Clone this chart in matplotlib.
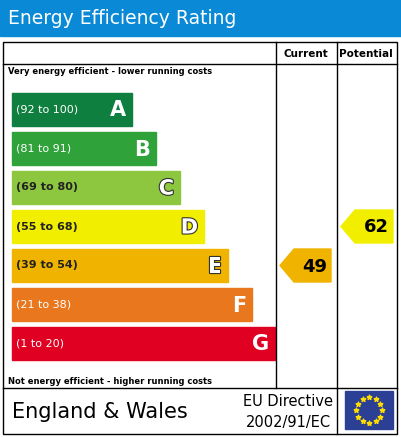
import matplotlib
matplotlib.use("Agg")
import matplotlib.pyplot as plt
from matplotlib.patches import Rectangle, Polygon
import matplotlib.patheffects as pe
import numpy as np

bands = ["A", "B", "C", "D", "E", "F", "G"]
ranges = ["(92 to 100)", "(81 to 91)", "(69 to 80)", "(55 to 68)", "(39 to 54)", "(21 to 38)", "(1 to 20)"]
colors = ["#0f7f3f", "#2fa23a", "#8dc63f", "#f2ee00", "#f0b400", "#e8771e", "#df0022"]
lower = [92, 81, 69, 55, 39, 21, 1]
current = 49
potential = 62

W, H = 401, 437
fig = plt.figure(figsize=(W/100, H/100), dpi=100)
ax = fig.add_axes([0, 0, 1, 1])
ax.set_xlim(0, W); ax.set_ylim(H, 0); ax.axis("off")

ax.add_patch(Rectangle((0, 0), W, 36, color="#0a8ad6"))
ax.text(8, 19, "Energy Efficiency Rating", color="white", fontsize=13.5, va="center", ha="left")

lw = 1.0
ax.add_patch(Rectangle((3, 42), 394, 392, fill=False, ec="black", lw=lw))
ax.plot([3, 397], [64, 64], color="black", lw=lw)
ax.plot([3, 397], [388, 388], color="black", lw=lw)
ax.plot([276, 276], [42, 388], color="black", lw=lw)
ax.plot([337, 337], [42, 388], color="black", lw=lw)
ax.plot([337, 337], [388, 434], color="black", lw=lw)
ax.text(306, 54, "Current", fontsize=7.5, weight="bold", ha="center", va="center")
ax.text(366, 54, "Potential", fontsize=7.5, weight="bold", ha="center", va="center")
ax.text(8, 72, "Very energy efficient - lower running costs", fontsize=6, weight="bold", va="center")
ax.text(8, 381, "Not energy efficient - higher running costs", fontsize=6, weight="bold", va="center")

tops = [93, 132, 171, 210, 249, 288, 327]
bh = 33
for i, (b, r, c) in enumerate(zip(bands, ranges, colors)):
    x1 = 132 + 24 * i if i < 6 else 275
    light = i in (2, 3, 4)
    ax.add_patch(Rectangle((12, tops[i]), x1 - 12, bh, color=c))
    ax.text(16, tops[i] + bh/2, r, fontsize=8, weight="bold" if light else "normal",
            color="#222222" if light else "white", va="center")
    effects = [pe.withStroke(linewidth=1.6, foreground="#333333")] if light else None
    ax.text(x1 - 6, tops[i] + bh/2 + 1, b, fontsize=15, weight="bold", color="white",
            va="center", ha="right", path_effects=effects)

def band_index(v):
    for i, lo in enumerate(lower):
        if v >= lo:
            return i
    return 6

def arrow(v, x0, x1):
    i = band_index(v)
    t = tops[i]; m = t + bh/2
    poly = Polygon([[x0, m], [x0 + 14, t], [x1, t], [x1, t + bh], [x0 + 14, t + bh]],
                   color=colors[i])
    ax.add_patch(poly)
    ax.text(x1 - 4, m + 1, str(v), fontsize=13, weight="bold", ha="right", va="center")

arrow(current, 280, 331)
arrow(potential, 341, 393)

ax.text(12, 412, "England & Wales", fontsize=15, va="center")
ax.text(288, 401, "EU Directive", fontsize=10.5, ha="center", va="center")
ax.text(288, 423, "2002/91/EC", fontsize=10.5, ha="center", va="center")
ax.add_patch(Rectangle((345, 391), 48, 38, color="#2b3f94"))
ang = np.linspace(0, 2*np.pi, 13)[:-1]
ax.scatter(369 + 13*np.cos(ang), 410 + 13*np.sin(ang), marker="*", s=12, color="#ffdd00", zorder=5)

fig.savefig("out.png", dpi=100)
